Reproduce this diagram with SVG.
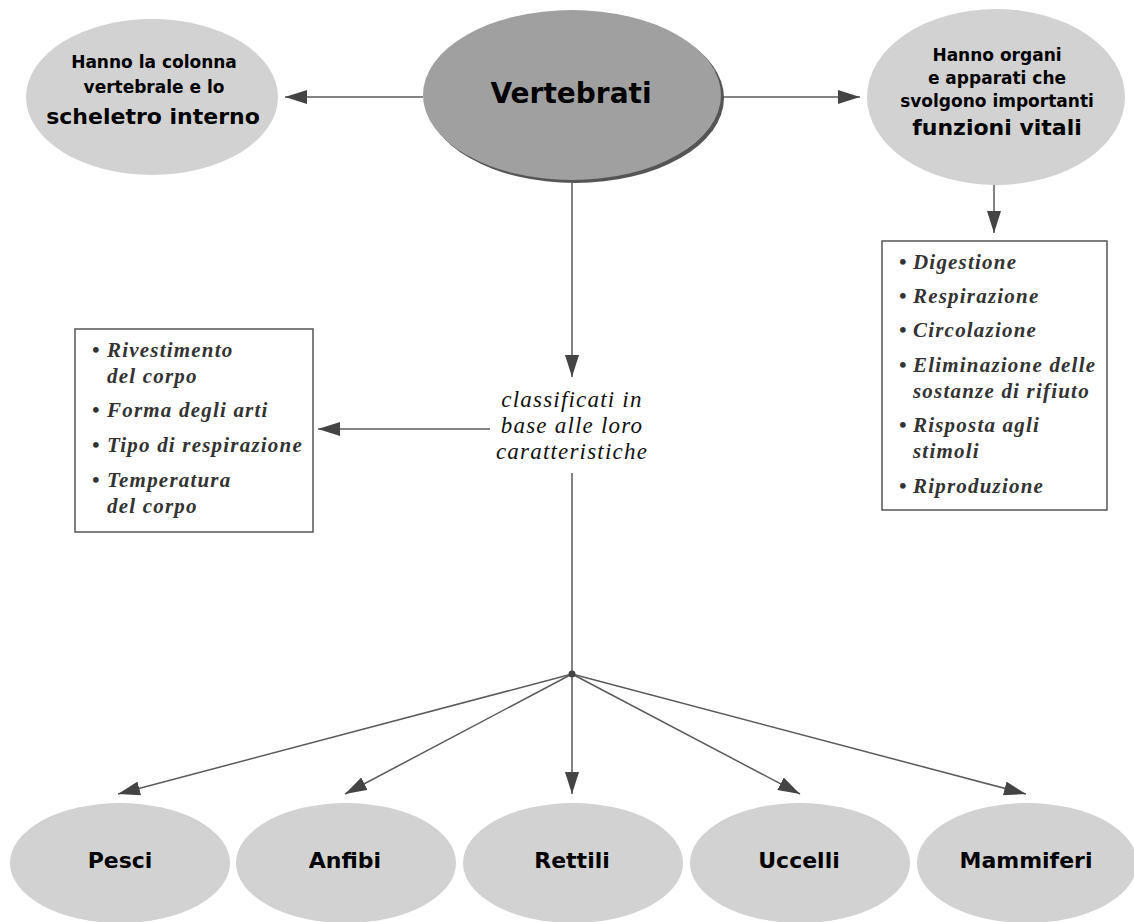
<svg xmlns="http://www.w3.org/2000/svg" width="1134" height="922" viewBox="0 0 1134 922">
<style>
.node{fill:#d2d2d2}
.lbl{font-family:"DejaVu Sans","Liberation Sans",sans-serif;font-weight:bold;fill:#000;text-anchor:middle}
.list{font-family:"Liberation Serif","Times New Roman",serif;font-weight:bold;font-style:italic;font-size:21px;letter-spacing:1.2px;fill:#333}
.mid{font-family:"Liberation Serif","Times New Roman",serif;font-style:italic;font-size:23px;letter-spacing:1.2px;fill:#111;text-anchor:middle}
.box{fill:#fff;stroke:#555;stroke-width:1.5}
.con{stroke:#5a5a5a;stroke-width:1.5;fill:none}
</style>
<defs>
<marker id="arr" markerUnits="userSpaceOnUse" markerWidth="23" markerHeight="14" refX="22" refY="7" orient="auto">
<path d="M0,0 L22,7 L0,14 z" fill="#444"/>
</marker>
</defs>
<rect width="1134" height="922" fill="#fff"/>

<g id="connectors">
<line class="con" x1="423" y1="97" x2="285" y2="97" marker-end="url(#arr)"/>
<line class="con" x1="722" y1="97" x2="860" y2="97" marker-end="url(#arr)"/>
<line class="con" x1="994" y1="184" x2="994" y2="233" marker-end="url(#arr)"/>
<line class="con" x1="572" y1="183" x2="572" y2="377" marker-end="url(#arr)"/>
<line class="con" x1="490" y1="429" x2="318" y2="429" marker-end="url(#arr)"/>
<line class="con" x1="572" y1="473" x2="572" y2="674"/>
<line class="con" x1="572" y1="674" x2="118" y2="794" marker-end="url(#arr)"/>
<line class="con" x1="572" y1="674" x2="345" y2="794" marker-end="url(#arr)"/>
<line class="con" x1="572" y1="674" x2="572" y2="794" marker-end="url(#arr)"/>
<line class="con" x1="572" y1="674" x2="800" y2="794" marker-end="url(#arr)"/>
<line class="con" x1="572" y1="674" x2="1026" y2="794" marker-end="url(#arr)"/>
<circle cx="572" cy="674" r="3.5" fill="#444"/>
</g>

<g id="vertebrati">
<ellipse cx="575" cy="98" rx="149" ry="85" fill="#555"/>
<ellipse cx="572" cy="95" rx="149" ry="85" fill="#a0a0a0"/>
<text class="lbl" x="571" y="103" font-size="28">Vertebrati</text>
</g>

<g id="scheletro">
<ellipse class="node" cx="152" cy="97" rx="126" ry="78"/>
<text class="lbl" x="154" y="68" font-size="17">Hanno la colonna</text>
<text class="lbl" x="154" y="93" font-size="17">vertebrale e lo</text>
<text class="lbl" x="153" y="124" font-size="22">scheletro interno</text>
</g>

<g id="funzioni">
<ellipse class="node" cx="996" cy="97" rx="129" ry="88"/>
<text class="lbl" x="997" y="61" font-size="17">Hanno organi</text>
<text class="lbl" x="997" y="84" font-size="17">e apparati che</text>
<text class="lbl" x="997" y="107" font-size="17">svolgono importanti</text>
<text class="lbl" x="997" y="135" font-size="22">funzioni vitali</text>
</g>

<g id="lista-funzioni">
<rect class="box" x="882" y="241" width="225" height="269"/>
<text class="list" x="899" y="269">•</text><text class="list" x="913" y="269">Digestione</text>
<text class="list" x="899" y="303">•</text><text class="list" x="913" y="303">Respirazione</text>
<text class="list" x="899" y="337">•</text><text class="list" x="913" y="337">Circolazione</text>
<text class="list" x="899" y="372">•</text><text class="list" x="913" y="372">Eliminazione delle</text>
<text class="list" x="913" y="398">sostanze di rifiuto</text>
<text class="list" x="899" y="432">•</text><text class="list" x="913" y="432">Risposta agli</text>
<text class="list" x="913" y="458">stimoli</text>
<text class="list" x="899" y="493">•</text><text class="list" x="913" y="493">Riproduzione</text>
</g>

<g id="classificati">
<text class="mid" x="572" y="407">classificati in</text>
<text class="mid" x="572" y="433">base alle loro</text>
<text class="mid" x="572" y="459">caratteristiche</text>
</g>

<g id="lista-caratteristiche">
<rect class="box" x="75" y="329" width="238" height="203"/>
<text class="list" x="92" y="357">•</text><text class="list" x="107" y="357">Rivestimento</text>
<text class="list" x="107" y="383">del corpo</text>
<text class="list" x="92" y="417">•</text><text class="list" x="107" y="417">Forma degli arti</text>
<text class="list" x="92" y="452">•</text><text class="list" x="107" y="452">Tipo di respirazione</text>
<text class="list" x="92" y="487">•</text><text class="list" x="107" y="487">Temperatura</text>
<text class="list" x="107" y="513">del corpo</text>
</g>

<g id="pesci">
<ellipse class="node" cx="120" cy="863" rx="110" ry="60"/>
<text class="lbl" x="120" y="868" font-size="22">Pesci</text>
</g>
<g id="anfibi">
<ellipse class="node" cx="346" cy="863" rx="110" ry="60"/>
<text class="lbl" x="345" y="868" font-size="22">Anfibi</text>
</g>
<g id="rettili">
<ellipse class="node" cx="573" cy="863" rx="110" ry="60"/>
<text class="lbl" x="572" y="868" font-size="22">Rettili</text>
</g>
<g id="uccelli">
<ellipse class="node" cx="800" cy="863" rx="110" ry="60"/>
<text class="lbl" x="799" y="868" font-size="22">Uccelli</text>
</g>
<g id="mammiferi">
<ellipse class="node" cx="1027" cy="863" rx="110" ry="60"/>
<text class="lbl" x="1026" y="868" font-size="22">Mammiferi</text>
</g>
</svg>
